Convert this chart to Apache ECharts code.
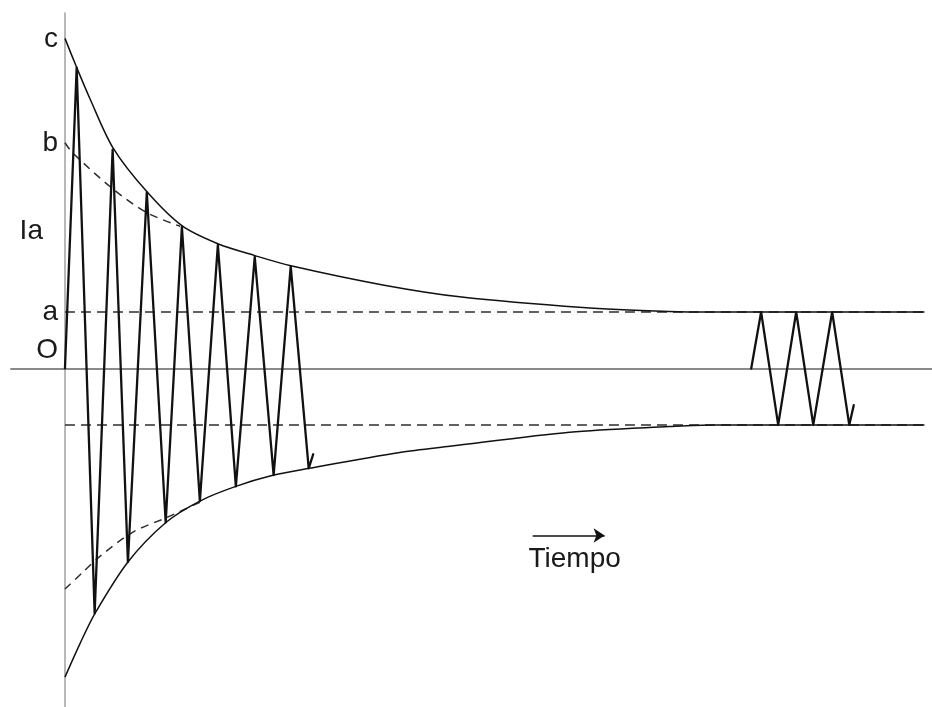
<!DOCTYPE html>
<html>
<head>
<meta charset="utf-8">
<title>Corriente de cortocircuito</title>
<script src="https://cdn.jsdelivr.net/npm/echarts@6/dist/echarts.min.js"></script>
<style>
  html, body { margin: 0; padding: 0; background: #ffffff; }
  #chart { width: 932px; height: 707px; }
</style>
</head>
<body>
<div id="chart"></div>
<script>
// Time in ms (50 Hz), current in units of the steady-state peak "a".

// Transient short-circuit current (peaks and troughs)
const waveT = [0, 6.5, 16.5, 26.5, 35, 45.5, 56, 65, 75, 85, 95, 105.5, 116, 125.5, 135.5, 138];
const waveI = [0, 5.33, -4.34, 3.88, -3.43, 3.12, -2.73, 2.51, -2.35, 2.19, -2.09, 1.98, -1.89, 1.81, -1.77, -1.52];

// Steady-state current after the transient has died out
const steadyT = [381.5, 387, 396.5, 406.5, 416, 426.5, 436, 438.5];
const steadyI = [0, 1, -1, 1, -1, 1, -1, -0.65];

// Envelope of the total current (with DC component)
const envUpT = [0, 6.7, 13.9, 26.7, 45.6, 65, 85, 105.6, 125.6, 176.7, 219.4, 287.8, 336, 360, 477.8];
const envUpI = [5.85, 5.32, 4.78, 3.91, 3.13, 2.53, 2.21, 2.0, 1.82, 1.48, 1.27, 1.08, 1.01, 1.0, 1.0];
const envLoT = [0, 8.3, 16.7, 35, 56.1, 75, 95, 116.1, 135.6, 186.1, 213.9, 280.6, 336, 360, 477.8];
const envLoI = [-5.47, -4.88, -4.34, -3.43, -2.73, -2.35, -2.09, -1.89, -1.77, -1.49, -1.38, -1.13, -1.03, -1.0, -1.0];

// Envelope of the symmetrical (AC) component
const acUpT = [0, 4, 26.7, 45.6, 64];
const acUpI = [4.0, 3.83, 3.18, 2.76, 2.52];
const acLoT = [0, 10, 19.4, 37.8, 56.7, 75];
const acLoI = [-3.91, -3.61, -3.33, -2.90, -2.64, -2.37];

// Steady-state peak levels (+a / -a)
const steadyLevels = [1, -1];
const levelSpan = [0, 477.8];

// Axis annotations
const axisTexts = [
  { text: 'c', i: envUpI[0], dy: 1 },
  { text: 'b', i: acUpI[0], dy: 1 },
  { text: 'a', i: 1, dy: 0 },
  { text: 'O', i: 0, dy: -18 }
];
const currentName = { text: 'Ia', i: 2.46 };
const timeArrow = { from: 260, to: 300, i: -2.96 };
const timeName = 'Tiempo';

const zip = (xs, ys) => xs.map((x, k) => [x, ys[k]]);

const ink = '#111111';
const dashInk = '#2e2e2e';

const series = [
  {
    type: 'line', name: 'envolvente superior', data: zip(envUpT, envUpI),
    smooth: 0.3, symbol: 'none', lineStyle: { color: ink, width: 1.5 }, z: 3
  },
  {
    type: 'line', name: 'envolvente inferior', data: zip(envLoT, envLoI),
    smooth: 0.3, symbol: 'none', lineStyle: { color: ink, width: 1.5 }, z: 3
  },
  {
    type: 'line', name: 'componente alterna +', data: zip(acUpT, acUpI),
    smooth: 0.3, symbol: 'none', lineStyle: { color: dashInk, width: 1.5, type: [8, 6] }, z: 2
  },
  {
    type: 'line', name: 'componente alterna -', data: zip(acLoT, acLoI),
    smooth: 0.3, symbol: 'none', lineStyle: { color: dashInk, width: 1.5, type: [8, 6] }, z: 2
  }
];

steadyLevels.forEach((lv) => {
  series.push({
    type: 'line', name: 'nivel ' + lv, data: levelSpan.map((t) => [t, lv]),
    symbol: 'none', lineStyle: { color: dashInk, width: 1.5, type: [10, 6] }, z: 2
  });
});

series.push({
  type: 'line', name: 'corriente transitoria', data: zip(waveT, waveI),
  symbol: 'none', lineStyle: { color: ink, width: 2.3, join: 'round', cap: 'round' }, z: 4
});
series.push({
  type: 'line', name: 'corriente permanente', data: zip(steadyT, steadyI),
  symbol: 'none', lineStyle: { color: ink, width: 2.3, join: 'round', cap: 'round' }, z: 4
});

// Time arrow
series.push({
  type: 'line', name: 'tiempo', data: [], symbol: 'none',
  markLine: {
    silent: true, symbol: ['none', 'arrow'], symbolSize: 11,
    lineStyle: { color: ink, width: 1.6, type: 'solid' }, label: { show: false },
    emphasis: { disabled: true },
    data: [[{ coord: [timeArrow.from, timeArrow.i] }, { coord: [timeArrow.to, timeArrow.i] }]]
  }
});

const chart = echarts.init(document.getElementById('chart'), null, { renderer: 'canvas' });

chart.setOption({
  animation: false,
  backgroundColor: '#ffffff',
  grid: { left: 11, right: 0, top: 13, bottom: 0 },
  xAxis: {
    type: 'value', min: -30, max: 482,
    axisLine: { show: true, onZero: true, lineStyle: { color: '#8a8a8a', width: 1.8 } },
    axisTick: { show: false }, axisLabel: { show: false }, splitLine: { show: false }
  },
  yAxis: {
    type: 'value', min: -6, max: 6.3,
    axisLine: { show: true, onZero: true, lineStyle: { color: '#a0a0a0', width: 1.5 } },
    axisTick: { show: false }, axisLabel: { show: false }, splitLine: { show: false }
  },
  series: series
});

// Text annotations placed from the data scale
const font = '28px "Liberation Sans", Arial, sans-serif';
const graphics = [];
axisTexts.forEach((m) => {
  const p = chart.convertToPixel({ gridIndex: 0 }, [0, m.i]);
  graphics.push({
    type: 'text', x: p[0] - 7, y: p[1] + m.dy,
    style: { text: m.text, font: font, fill: '#1a1a1a', align: 'right', verticalAlign: 'middle' }
  });
});
{
  const p = chart.convertToPixel({ gridIndex: 0 }, [0, currentName.i]);
  graphics.push({
    type: 'text', x: p[0] - 22, y: p[1] + 2,
    style: { text: currentName.text, font: font, fill: '#1a1a1a', align: 'right', verticalAlign: 'middle' }
  });
}
{
  const p = chart.convertToPixel({ gridIndex: 0 }, [(timeArrow.from + timeArrow.to) / 2, timeArrow.i]);
  graphics.push({
    type: 'text', x: p[0] + 6, y: p[1] + 24,
    style: { text: timeName, font: font, fill: '#1a1a1a', align: 'center', verticalAlign: 'middle' }
  });
}
chart.setOption({ graphic: graphics });
</script>
</body>
</html>
